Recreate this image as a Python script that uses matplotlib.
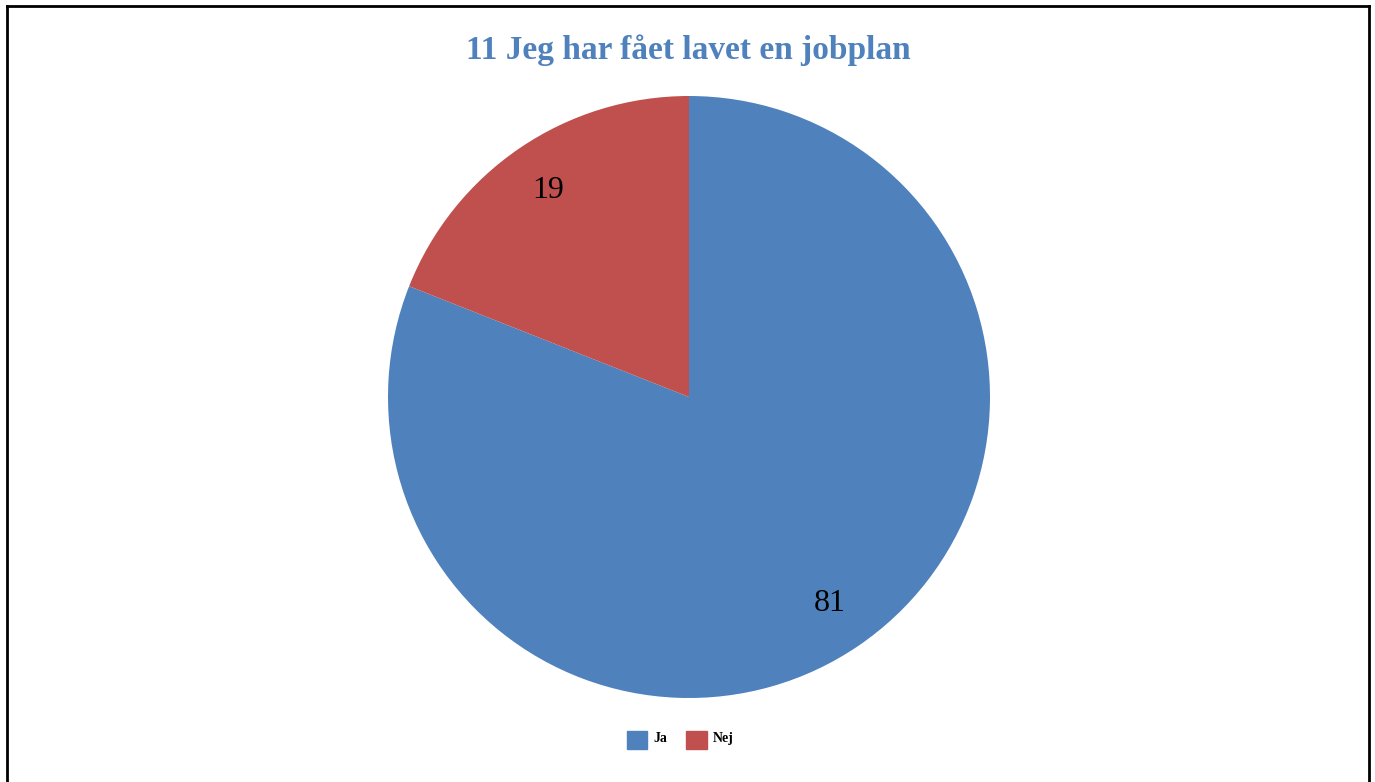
import matplotlib
matplotlib.use("Agg")
import matplotlib.pyplot as plt
from matplotlib.patches import Rectangle

categories = ["Ja", "Nej"]
values = [81, 19]
colors = ["#4F81BD", "#C0504D"]
title = "11 Jeg har fået lavet en jobplan"

W, H = 1375, 782
fig = plt.figure(figsize=(W / 100, H / 100), dpi=100)
fig.patch.set_facecolor("white")

# outer border (left, top, right)
fig.add_artist(plt.Line2D([7 / W, 7 / W], [0, 1 - 6 / H], transform=fig.transFigure, color="black", lw=2))
fig.add_artist(plt.Line2D([7 / W, 1369 / W], [1 - 6 / H, 1 - 6 / H], transform=fig.transFigure, color="black", lw=2))
fig.add_artist(plt.Line2D([1369 / W, 1369 / W], [0, 1 - 6 / H], transform=fig.transFigure, color="black", lw=2))

cx, cy, r = 689, 397, 301
ax = fig.add_axes([(cx - r) / W, 1 - (cy + r) / H, 2 * r / W, 2 * r / H])
wedges, texts, autotexts = ax.pie(
    values, colors=colors, startangle=90, counterclock=False, radius=1,
    autopct=lambda p: f"{p * sum(values) / 100:.0f}", pctdistance=0.83,
    textprops=dict(family="Liberation Serif", fontsize=23, color="black"),
)
ax.set_xlim(-1, 1)
ax.set_ylim(-1, 1)
ax.set_aspect("equal")
ax.axis("off")

fig.text(688 / W, 1 - 50 / H, title, ha="center", va="center",
         family="Liberation Serif", fontweight="bold", fontsize=24, color="#4F81BD")

# legend
leg = fig.legend(handles=[Rectangle((0, 0), 1, 1, color=c) for c in colors], labels=categories,
                 loc="center", bbox_to_anchor=(680 / W, 1 - 740 / H), ncol=2, frameon=False,
                 prop=dict(family="Liberation Serif", size=10, weight="bold"),
                 handlelength=1.5, handleheight=1.6, handletextpad=0.4, columnspacing=1.4)
for t in leg.get_texts():
    t.set_verticalalignment("bottom")

fig.savefig("out.png", dpi=100)
